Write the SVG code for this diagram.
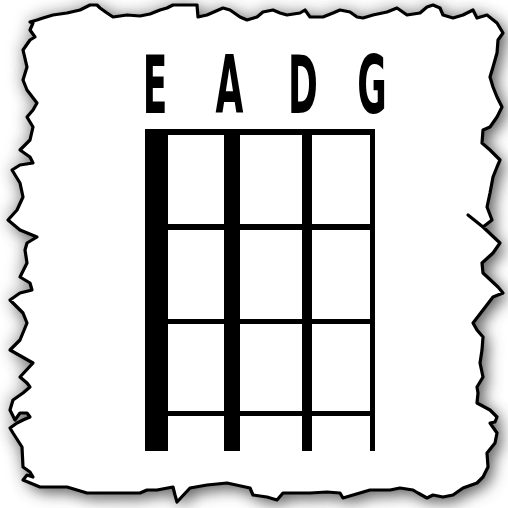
<svg xmlns="http://www.w3.org/2000/svg" width="508" height="508" viewBox="0 0 508 508">
  <defs>
    <filter id="shadow" x="-20%" y="-20%" width="140%" height="140%">
      <feGaussianBlur stdDeviation="8"/>
    </filter>
    <path id="paper" d="M30,22 L37,20 L43,18 L53,15 L67,13 L80,10 L90,5 L97,5 L100,8 L107,13 L113,17 L127,15 L140,16 L150,14 L160,10 L167,8 L173,5 L197,5 L198,17 L207,15 L223,8 L230,10 L240,17 L247,20 L257,17 L263,12 L273,10 L280,13 L287,15 L300,13 L305,10 L310,17 L323,17 L333,13 L340,10 L350,12 L357,17 L363,18 L373,15 L387,12 L397,8 L407,15 L420,13 L427,7 L433,5 L440,8 L443,15 L453,18 L463,15 L473,10 L477,18 L487,15 L497,23 L503,33 L498,40 L497,53 L493,67 L490,77 L493,87 L497,97 L502,107 L497,117 L490,127 L483,130 L482,143 L490,150 L500,160 L497,167 L493,177 L490,193 L487,207 L492,220 L483,227 L468,215 L483,227 L500,243 L493,253 L482,263 L483,273 L498,287 L503,293 L493,297 L483,310 L473,323 L477,330 L483,337 L482,350 L480,363 L483,377 L477,387 L478,393 L477,403 L490,410 L497,417 L495,422 L490,423 L497,433 L495,443 L487,453 L488,467 L483,477 L477,483 L463,488 L453,495 L443,497 L433,495 L427,498 L418,493 L413,490 L400,488 L390,490 L370,490 L353,495 L343,498 L340,493 L327,492 L310,493 L297,493 L283,493 L277,500 L267,497 L253,495 L250,488 L227,483 L207,485 L190,488 L177,502 L175,495 L173,487 L157,490 L147,490 L140,493 L120,493 L100,493 L87,493 L67,487 L40,487 L23,480 L27,475 L33,477 L30,472 L23,467 L22,447 L13,433 L10,428 L17,423 L23,420 L30,417 L27,413 L20,413 L15,420 L10,410 L13,400 L23,393 L30,387 L27,383 L20,377 L33,363 L10,350 L20,340 L27,323 L23,313 L10,300 L20,293 L32,290 L30,283 L20,277 L27,263 L25,250 L27,243 L37,237 L20,230 L8,220 L17,210 L23,197 L20,183 L12,170 L20,165 L33,163 L30,157 L20,150 L30,140 L33,127 L27,117 L33,110 L37,103 L27,90 L23,80 L27,67 L23,50 L30,40 L35,37 L30,30 L33,23 Z"/>
  </defs>
  <style>
    .letter { font-family: "DejaVu Sans", "Liberation Sans", sans-serif; font-weight: bold; font-size: 80px; fill: #000; text-anchor: middle; }
    .bar { fill: #000; }
  </style>
  <rect width="508" height="508" fill="#fff"/>
  <g id="paper-sheet">
    <use href="#paper" fill="#555" filter="url(#shadow)" transform="translate(5,5)"/>
    <use href="#paper" fill="#888" filter="url(#shadow)" transform="translate(-3,-2)" opacity="0.6"/>
    <use href="#paper" fill="#fff" stroke="#000" stroke-width="3.2" stroke-linejoin="round"/>
  </g>
  <g id="labels">
    <text class="letter" transform="translate(155,113) scale(0.45,1)">E</text>
    <text class="letter" transform="translate(229.5,113) scale(0.45,1)">A</text>
    <text class="letter" transform="translate(303,113) scale(0.45,1)">D</text>
    <text class="letter" transform="translate(372,113) scale(0.45,1)">G</text>
  </g>
  <g id="frets">
    <rect id="nut" class="bar" x="145" y="129" width="230" height="6"/>
    <rect id="fret1" class="bar" x="145" y="224" width="230" height="6"/>
    <rect id="fret2" class="bar" x="145" y="319" width="230" height="5"/>
    <rect id="fret3" class="bar" x="145" y="411" width="230" height="5"/>
  </g>
  <g id="strings">
    <rect id="string-E" class="bar" x="145" y="129" width="23" height="322"/>
    <rect id="string-A" class="bar" x="224" y="129" width="16" height="322"/>
    <rect id="string-D" class="bar" x="302" y="129" width="10" height="322"/>
    <rect id="string-G" class="bar" x="370" y="129" width="5" height="322"/>
  </g>
</svg>
